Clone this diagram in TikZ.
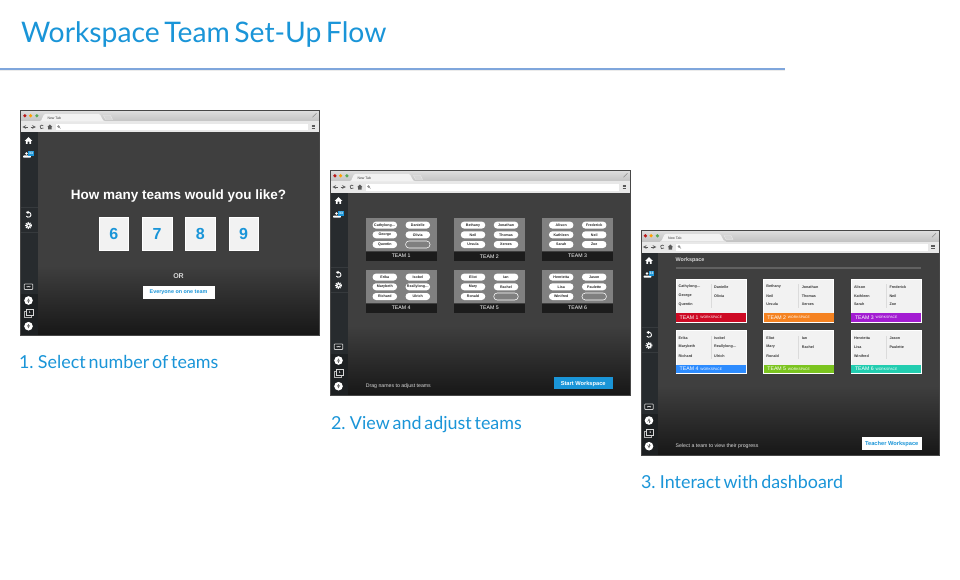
\documentclass[tikz,border=0pt]{standalone}
\usepackage{fontspec}
\setmainfont{Liberation Sans}
\newfontfamily\latofont[WordSpace=0.62]{Lato}
\usetikzlibrary{calc,positioning}

\definecolor{flowblue}{HTML}{1A95D8}
\definecolor{flowrule}{HTML}{7FA6DC}
\definecolor{sidebar}{HTML}{272B2E}
\definecolor{sidelow}{HTML}{1D2022}
\definecolor{sideline}{HTML}{363A3D}
\definecolor{content}{HTML}{3F3F3F}
\definecolor{contentlow}{HTML}{171717}
\definecolor{panelgray}{HTML}{808080}
\definecolor{teambar}{HTML}{1C1C1C}
\definecolor{cardgray}{HTML}{F2F2F2}
\definecolor{teamred}{HTML}{CE0A24}
\definecolor{teamorange}{HTML}{F58220}
\definecolor{teampurple}{HTML}{A31CD2}
\definecolor{teamblue}{HTML}{2D8CFF}
\definecolor{teamgreen}{HTML}{7BC41F}
\definecolor{teamteal}{HTML}{22CDB0}

\newcommand\pxfont[1]{\fontsize{#1}{#1}\selectfont}

\tikzset{
	bare/.style={inner sep=0,outer sep=0},
	titletext/.style={bare,anchor=base west,text=flowblue,font=\latofont\pxfont{28.3}},
	steptext/.style={bare,anchor=base west,text=flowblue,font=\latofont\pxfont{17.9}},
	choice/.style={bare,fill=cardgray,draw=white,line width=.5,minimum width=29.5,minimum height=32.5,
		text=flowblue,font=\bfseries\pxfont{16}},
	whitebutton/.style={bare,fill=white,draw=white,line width=.3,text=flowblue,font=\bfseries,text height=5.2,text depth=1},
	namepill/.style={bare,fill=white,rounded corners=3.4,minimum width=24.5,minimum height=7,
		text=black!85,font=\bfseries\pxfont{3.6}},
	emptypill/.style={namepill,fill=panelgray,draw=white,line width=.55},
	teampanel/.style={bare,anchor=north west,fill=panelgray,minimum width=70.7,minimum height=33.6},
	teamtag/.style={bare,fill=teambar,minimum width=70.7,minimum height=8.6,text=white,font=\pxfont{5.2}},
	teamcard/.style={bare,anchor=north west,fill=cardgray,draw=white,line width=.7,minimum width=70,minimum height=42.4},
	cardname/.style={bare,anchor=west,text=black!78,font=\bfseries\pxfont{3.7}},
	hinttext/.style={bare,anchor=west,text=white!85!black,font=\pxfont{5.2}},
}

% browser frame with the side bar, #1 name and #2 width
\newcommand\browserwin[2]{
	\shade[top color=black!13,bottom color=black!24] (0,0) rectangle (#2,11);
	\fill[black!9] (0,11) rectangle (#2,22);
	\fill[black!5] (19,11) .. controls (22,11) and (22,3.3) .. (25,3.3) -- (78,3.3) .. controls (81,3.3) and (81,11) .. (85,11) -- cycle;
	\fill[black!16,draw=black!8,line width=.4] (83,5) -- (90,5) -- (92,9) -- (85,9) -- cycle;
	\node[bare,anchor=west,text=black!75,font=\pxfont{3.5}] (#1tab) at (27,7.3) {New Tab};
	\fill[red!70!black!90] (4.4,5.3) circle (1.8);
	\fill[orange!75!yellow] (10.1,5.3) circle (1.8);
	\fill[green!50!black!65] (16.4,5.3) circle (1.8);
	\draw[black!45,line width=.5] (#2-7,6.8) -- (#2-3,2.8);
	\fill[white] (35,13.3) rectangle (#2-11.5,20);
	% toolbar buttons
	\draw[black!65,line width=.7,->,>=stealth] (7,16.5) -- (1.8,16.5);
	\draw[black!65,line width=.7,->,>=stealth] (10.2,16.5) -- (15.4,16.5);
	\draw[black!65,line width=.7] (22.95,17.45) arc[start angle=30,end angle=320,radius=1.9];
	\fill[black!65] (26.8,16.5) -- (29.3,14) -- (31.8,16.5) -- (31,16.5) -- (31,19) -- (27.6,19) -- (27.6,16.5) -- cycle;
	\draw[black!45,line width=.4] (38,16) circle (1) -- (40,18);
	\foreach \mnu in {14.6,16.4,18.2} {\draw[black!65,line width=.9] (#2-8,\mnu) -- (#2-4.4,\mnu);}
	% page
	\fill[content] (17,22) rectangle (#2,155);
	\shade[top color=content,bottom color=contentlow] (17,155) rectangle (#2,225);
	\fill[sidebar] (0,22) rectangle (17,183);
	\fill[sidelow] (0,183) rectangle (17,225);
	\draw[sideline,line width=.6] (0,97) -- (17,97);
	\draw[sideline,line width=.6] (0,122) -- (17,122);
	% home and people
	\fill[white] (4.2,30.3) -- (8,26.7) -- (11.8,30.3) -- (10.6,30.3) -- (10.6,33.3) -- (8.9,33.3) -- (8.9,31.2) -- (7.1,31.2) -- (7.1,33.3) -- (5.4,33.3) -- (5.4,30.3) -- cycle;
	\fill[white] (6,43) circle (1.4);
	\fill[white,rounded corners=.6] (2.7,45) rectangle (10.3,47.2);
	\node[bare,fill=flowblue,minimum width=5.8,minimum height=4.6,text=white,font=\bfseries\pxfont{3.4}] (#1count) at (10.5,42.8) {33};
	% undo and settings
	\draw[white,line width=.9] (6.4,102.4) arc[start angle=-130,end angle=150,radius=2.5];
	\fill[white] (8.2,100.4) -- (5.4,101.6) -- (7.8,103.6) -- cycle;
	\fill[white] (8,115) circle (2.5);
	\draw[white,line width=1,dash pattern=on 1.1 off 1.05] (8,115) circle (3);
	\fill[sidebar] (8,115) circle (1);
	% bottom tools
	\draw[white!80!black,line width=.8,rounded corners=.8,fill=sidelow] (3.7,173.4) rectangle (12.3,179);
	\fill[white!80!black] (6.6,176.2) circle (.8) (9.4,176.2) circle (.8) (6.6,175.7) rectangle (9.4,176.7);
	\fill[white] (8,190) circle (4.3);
	\draw[black!55,line width=.55,->,>=stealth] (8,192.3) -- (8,187.8);
	\draw[white!70!black,line width=.6,fill=sidelow] (3.7,200.6) rectangle (10.5,206.6);
	\draw[white!85!black,line width=.7,fill=sidelow] (5.6,198.5) rectangle (12.8,204.6);
	\node[bare,text=white,font=\bfseries\pxfont{3.2}] (#1slide) at (9.2,201.6) {1};
	\fill[white] (8,215.7) circle (4.3);
	\draw[black!55,line width=.55,->,>=stealth] (8,213.4) -- (8,217.9);
	\draw[black!72,line width=.9] (0,0) rectangle (#2,225);
}

% team, column, row, colour, names
\newcommand\teamlist{
	1/0/0/teamred/{Cathylong\ldots,Danielle,George,Olivia,Quentin},
	2/1/0/teamorange/{Bethany,Jonathan,Neil,Thomas,Ursula,Xerxes},
	3/2/0/teampurple/{Alison,Frederick,Kathleen,Neil,Sarah,Zoe},
	4/0/1/teamblue/{Erika,Isobel,Marybeth,Reallylong\ldots,Richard,Ulrich},
	5/1/1/teamgreen/{Eliot,Ian,Mary,Rachel,Ronald},
	6/2/1/teamteal/{Henrietta,Jason,Lisa,Paulette,Winifred}}

\begin{document}
\begin{tikzpicture}[x=1pt,y=-1pt]
	\useasboundingbox (0,0) rectangle (960,580);
	\fill[white] (0,0) rectangle (960,580);

	\node[titletext] (title) at (21,42.2) {Workspace Team Set-Up Flow};
	\draw[black!8,line width=1] (0,70.4) -- (785,70.4);
	\draw[flowrule,line width=1.3] (0,69) -- (785,69);

	% first window
	\begin{scope}[shift={(20.5,110.5)}]
		\browserwin{first}{299}
		\node[bare,text=white,font=\bfseries\pxfont{13.5}] (question) at (158,85.5) {How many teams would you like?};
		\foreach \num [count=\i from 0] in {6,7,8,9} {
			\node[choice] (choice\num) at (93.2+43.3*\i,123.2) {\num};
		}
		\node[bare,text=white!85!black,font=\bfseries\pxfont{7}] (orlabel) at (158,166) {OR};
		\node[whitebutton,below=6.7pt of orlabel,minimum width=70.6,minimum height=12,font=\bfseries\pxfont{5.4}] (oneteam) {Everyone on one team};
	\end{scope}
	\node[steptext] (stepone) at (19,368.7) {1. Select number of teams};

	% second window
	\begin{scope}[shift={(330.5,170.5)}]
		\browserwin{second}{300}
		\foreach \tn/\cl/\rw/\clr/\names in \teamlist {
			\node[teampanel] (panel\tn) at (35.3+88.2*\cl,47.3+52*\rw) {};
			\node[teamtag,below=.5pt of panel\tn] (tag\tn) {TEAM \tn};
			\foreach \nm [count=\i] in \names {
				\pgfmathtruncatemacro\cc{mod(\i-1,2)}
				\pgfmathtruncatemacro\rr{(\i-1)/2}
				\node[namepill] (pill\tn n\i) at (35.3+88.2*\cl+19+33*\cc,47.3+52*\rw+7.3+9.7*\rr) {\nm};
			}
		}
		\foreach \tn in {1,5,6} {
			\node[emptypill,below=2.7pt of pill\tn n4] (pill\tn n6) {};
		}
		\node[hinttext] (draghint) at (35.3,215.3) {Drag names to adjust teams};
		\node[bare,fill=flowblue,minimum width=58.7,minimum height=11.7,text=white,font=\bfseries\pxfont{5.7},text height=5.2,text depth=1] (startbtn) at (252.7,212.5) {Start Workspace};
	\end{scope}
	\node[steptext] (steptwo) at (331,429.7) {2. View and adjust teams};

	% third window
	\begin{scope}[shift={(641,230.5)}]
		\browserwin{third}{298}
		\node[bare,anchor=west,text=white!85!black,font=\bfseries\pxfont{5.4}] (wslabel) at (34.7,30) {Workspace};
		\draw[black!62,line width=1.6] (34.7,37.3) -- (280.3,37.3);
		\foreach \tn/\cl/\rw/\clr/\names in \teamlist {
			\node[teamcard] (card\tn) at (35+87.65*\cl,49+51.3*\rw) {};
			\node[bare,anchor=south,fill=\clr,minimum width=70,minimum height=8.6] (band\tn) at (card\tn.south) {};
			\node[bare,anchor=west,text=white,font=\pxfont{5.2}] (bandteam\tn) at ($(band\tn.west)+(3.7,0)$) {TEAM \tn};
			\node[bare,anchor=west,text=white,font=\pxfont{3.4}] (bandws\tn) at ($(band\tn.west)+(24.3,0)$) {WORKSPACE};
			\draw[black!14,line width=.9] ($(card\tn.north west)+(35,4.7)$) -- ($(card\tn.north west)+(35,28)$);
			\foreach \nm [count=\i] in \names {
				\pgfmathtruncatemacro\cc{mod(\i-1,2)}
				\pgfmathtruncatemacro\rr{(\i-1)/2}
				\node[cardname] (name\tn n\i) at ($(card\tn.north west)+(2.7+35.5*\cc,7.4+8.8*\rr)$) {\nm};
			}
		}
		\node[hinttext] (selecthint) at (34.7,215.3) {Select a team to view their progress};
		\node[whitebutton,minimum width=58.7,minimum height=11.7,font=\bfseries\pxfont{5.7}] (teacherbtn) at (250.7,212.5) {Teacher Workspace};
	\end{scope}
	\node[steptext] (stepthree) at (641,488.7) {3. Interact with dashboard};
\end{tikzpicture}
\end{document}
